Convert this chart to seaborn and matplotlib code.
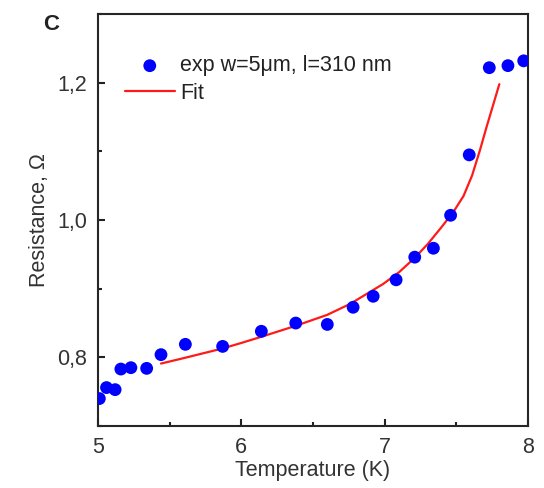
import numpy as np
import pandas as pd
import matplotlib
matplotlib.use('Agg')
import matplotlib.pyplot as plt
import seaborn as sns
from matplotlib.ticker import MultipleLocator, FuncFormatter

temp_exp = [5.01, 5.06, 5.12, 5.16, 5.23, 5.34, 5.44, 5.61, 5.87, 6.14, 6.38,
            6.60, 6.78, 6.92, 7.08, 7.21, 7.34, 7.46, 7.59, 7.73, 7.86, 7.97]
res_exp = [0.740, 0.756, 0.753, 0.783, 0.785, 0.784, 0.804, 0.819, 0.816, 0.838, 0.850,
           0.848, 0.873, 0.889, 0.913, 0.946, 0.959, 1.007, 1.095, 1.222, 1.225, 1.232]

# fit curve
temp_fit = [5.44, 5.60, 5.87, 6.00, 6.14, 6.38, 6.60, 6.76, 6.99, 7.10, 7.21,
            7.30, 7.39, 7.48, 7.55, 7.61, 7.665, 7.71, 7.80]
res_fit = [0.791, 0.799, 0.813, 0.821, 0.830, 0.846, 0.862, 0.878, 0.907, 0.924, 0.945,
           0.965, 0.988, 1.012, 1.035, 1.065, 1.102, 1.135, 1.198]

exp_label = 'exp w=5\u03bcm, l=310 nm'
fs = 15.5

sns.set_style('ticks')
plt.rcParams['font.family'] = ['Liberation Sans', 'DejaVu Sans']

df_exp = pd.DataFrame({'T': temp_exp, 'R': res_exp})
df_fit = pd.DataFrame({'T': temp_fit, 'R': res_fit})

fig = plt.figure(figsize=(5.44, 4.88), dpi=100)
ax = fig.add_axes([0.180, 0.127, 0.7906, 0.844])

sns.scatterplot(data=df_exp, x='T', y='R', ax=ax, color='#0000ff', s=85,
                edgecolor='none', label=exp_label, zorder=3)
sns.lineplot(data=df_fit, x='T', y='R', ax=ax, color='#ff1a1a', lw=1.6,
             label='Fit', sort=False, zorder=2)

ax.set_xlim(5, 8)
ax.set_ylim(0.70, 1.30)
ax.xaxis.set_major_locator(MultipleLocator(1))
ax.xaxis.set_minor_locator(MultipleLocator(0.5))
ax.yaxis.set_major_locator(MultipleLocator(0.2))
ax.yaxis.set_minor_locator(MultipleLocator(0.1))
ax.yaxis.set_major_formatter(FuncFormatter(lambda v, p: f'{v:.1f}'.replace('.', ',')))

for s in ax.spines.values():
    s.set_visible(True)
    s.set_linewidth(1.5)
ax.tick_params(which='both', direction='in', width=1.5, labelsize=fs, colors='#222222',
               top=False, right=False)
ax.tick_params(which='major', length=5)
ax.tick_params(axis='x', which='major', pad=8)
ax.tick_params(axis='y', which='major', pad=8)
ax.tick_params(which='minor', length=3)
for lab in ax.get_xticklabels() + ax.get_yticklabels():
    lab.set_color('#333333')

ax.set_xlabel('Temperature (K)', fontsize=fs, color='#333333', labelpad=1)
ax.set_ylabel('Resistance, \u03a9', fontsize=fs, color='#333333', labelpad=5)

leg = ax.legend(loc='upper left', bbox_to_anchor=(0.063, 0.9), frameon=False,
                fontsize=fs, handlelength=2.3, handletextpad=0.27,
                labelspacing=0.3, borderaxespad=0, borderpad=0)
for t in leg.get_texts():
    t.set_color('#222222')

fig.text(0.079, 0.9385, 'C', fontsize=16, fontweight='bold', color='#222222', va='baseline')

fig.savefig('out.png', dpi=100)
